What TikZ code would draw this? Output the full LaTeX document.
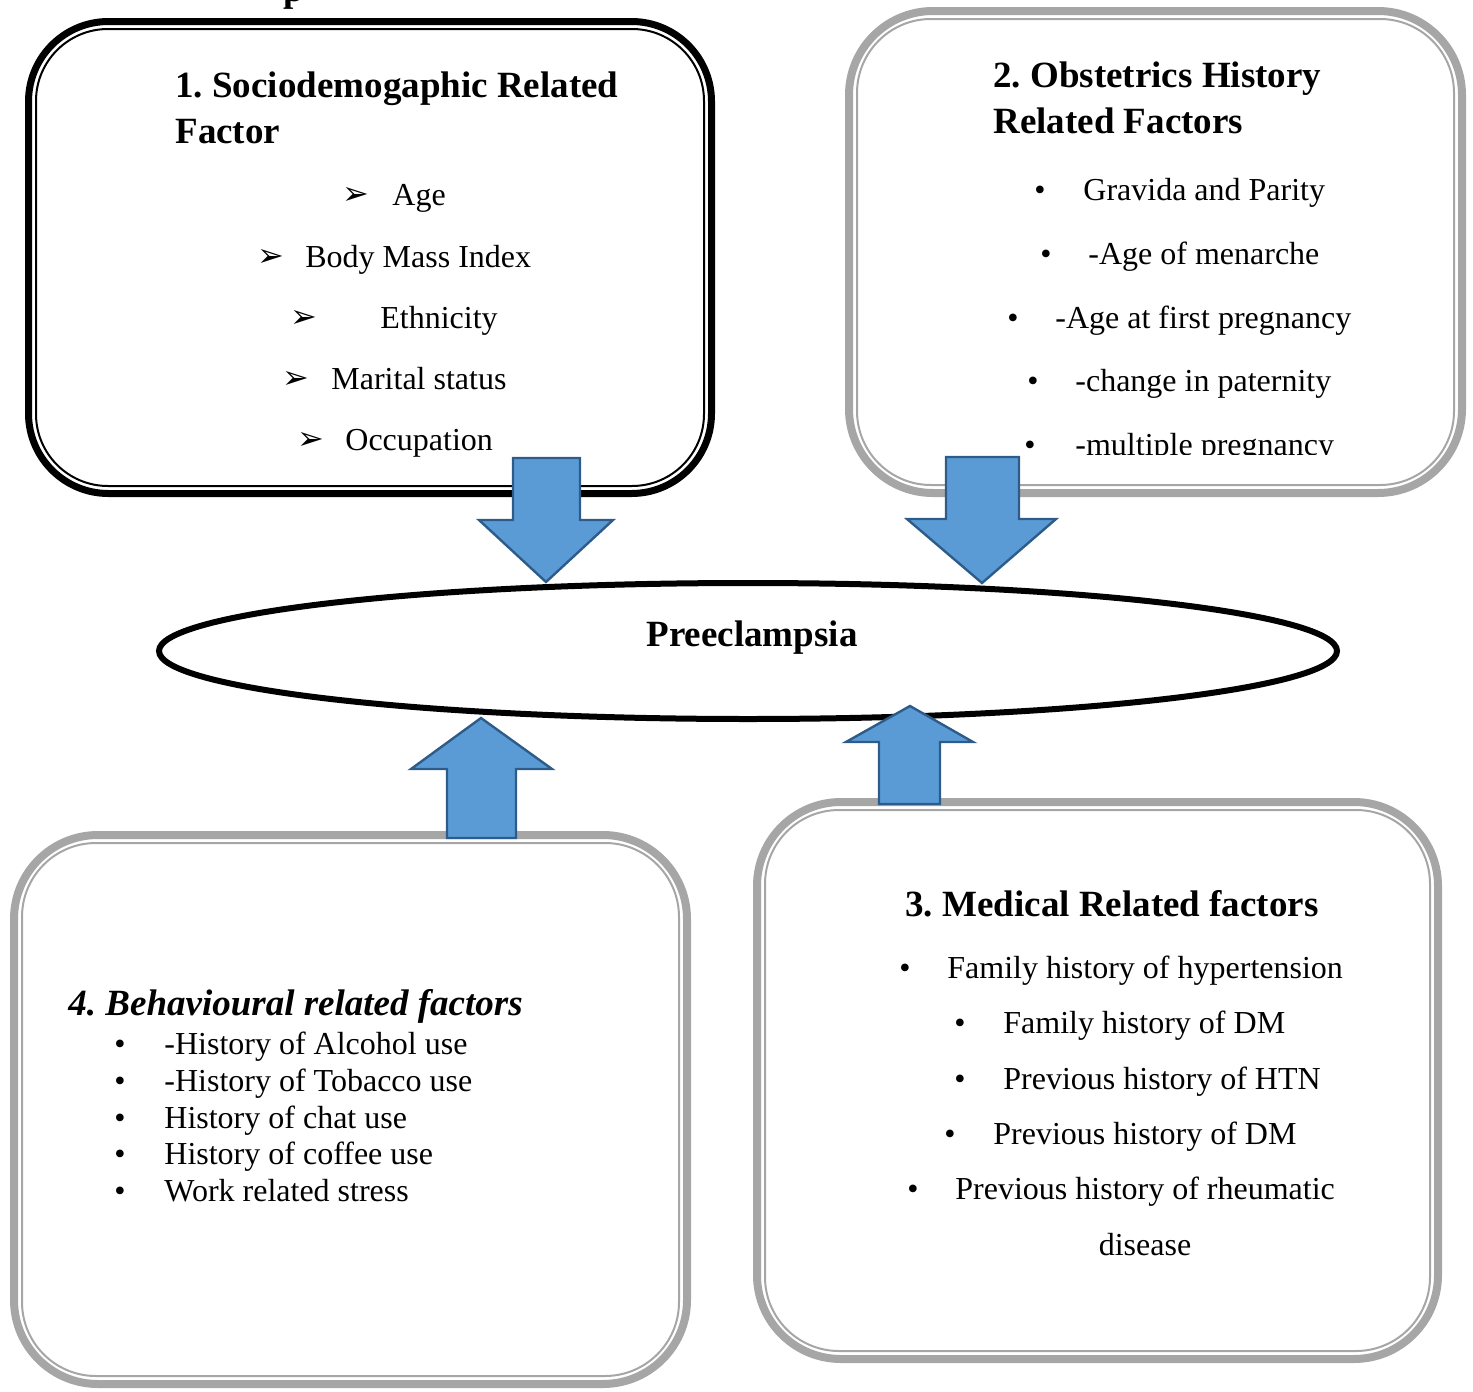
\documentclass[tikz,border=0pt]{standalone}
\usepackage{fontspec}
\setmainfont{Liberation Serif}
\newfontfamily\symfont{DejaVu Sans}
\usetikzlibrary{shapes.geometric}
\definecolor{frameblack}{HTML}{000000}
\definecolor{framegray}{HTML}{A6A6A6}
\definecolor{flowfill}{HTML}{5B9BD5}
\definecolor{flowline}{HTML}{2E5C8A}
\frenchspacing
\newcommand{\itemfont}{\fontsize{16}{19}\selectfont}
\newcommand{\headfont}{\fontsize{18.5}{22}\selectfont\bfseries}
\tikzset{
  % ---- frames ----------------------------------------------------
  blackouter/.style = {draw=frameblack, line width=3.5pt, rounded corners=40pt},
  blackinner/.style = {draw=frameblack, line width=1pt, rounded corners=36pt},
  grayouter/.style  = {draw=framegray, line width=4pt, rounded corners=42pt},
  grayinner/.style  = {draw=framegray, line width=1pt, rounded corners=37pt},
  % ---- texts -----------------------------------------------------
  head/.style       = {font=\headfont, anchor=base west, inner sep=0pt},
  itemtext/.style   = {font=\itemfont, anchor=base west, inner sep=0pt},
  bul/.style        = {font=\itemfont, anchor=base, inner sep=0pt},
  pointer/.style    = {font=\symfont\fontsize{16}{18}\selectfont, anchor=base,
                       inner sep=0pt},
  % ---- centre and arrows -----------------------------------------
  outcome/.style    = {ellipse, draw=black, line width=3pt, fill=white,
                       minimum width=589pt, minimum height=68pt, inner sep=0pt},
  flow/.style       = {fill=flowfill, draw=flowline, line width=1.2pt,
                       line join=miter},
}
\begin{document}
\begin{tikzpicture}[x=0.5pt, y=-0.5pt]
\useasboundingbox (0,0) rectangle (1473,1392);
% clipped title fragment
\node[head] (title) at (283,2) {p};
% frames
\draw[blackouter] (28.5,21.5) rectangle (711.5,493.5);
\draw[blackinner] (36,29) rectangle (704,486);
\draw[grayouter] (849,11) rectangle (1462,493);
\draw[grayinner] (857,19) rectangle (1454,485);
\draw[grayouter] (757,802) rectangle (1438,1359);
\draw[grayinner] (765,810) rectangle (1430,1351);
\draw[grayouter] (14,835) rectangle (687,1384);
\draw[grayinner] (22,843) rectangle (679,1376);
% 1. sociodemographic
\node[head] (sdh1) at (175,97) {1. Sociodemogaphic Related};
\node[head] (sdh2) at (175,143) {Factor};
\node[pointer] (sdp1) at (356,204) {➢};
\node[itemtext] (sdi1) at (392,205) {Age};
\node[pointer] (sdp2) at (271,266) {➢};
\node[itemtext] (sdi2) at (305,267) {Body Mass Index};
\node[pointer] (sdp3) at (304,327) {➢};
\node[itemtext] (sdi3) at (380,328) {Ethnicity};
\node[pointer] (sdp4) at (296,388) {➢};
\node[itemtext] (sdi4) at (331,389) {Marital status};
\node[pointer] (sdp5) at (311,449) {➢};
\node[itemtext] (sdi5) at (345,450) {Occupation};
% 2. obstetrics history
\node[head] (obh1) at (993,87) {2. Obstetrics History};
\node[head] (obh2) at (993,133) {Related Factors};
\node[bul] (obb1) at (1040,200) {•};
\node[itemtext] (obi1) at (1083,200) {Gravida and Parity};
\node[bul] (obb2) at (1046,264) {•};
\node[itemtext] (obi2) at (1088,264) {-Age of menarche};
\node[bul] (obb3) at (1013,328) {•};
\node[itemtext] (obi3) at (1055,328) {-Age at first pregnancy};
\node[bul] (obb4) at (1033,391) {•};
\node[itemtext] (obi4) at (1075,391) {-change in paternity};
\begin{scope}
  \clip (1000,400) rectangle (1400,454);
  \node[bul] (obb5) at (1030,455) {•};
  \node[itemtext] (obi5) at (1075,455) {-multiple pregnancy};
\end{scope}
% 3. medical
\node[head] (mdh) at (905,916) {3. Medical Related factors};
\node[bul] (mdb1) at (905,978) {•};
\node[itemtext] (mdi1) at (947,978) {Family history of hypertension};
\node[bul] (mdb2) at (960,1033) {•};
\node[itemtext] (mdi2) at (1003,1033) {Family history of DM};
\node[bul] (mdb3) at (960,1089) {•};
\node[itemtext] (mdi3) at (1003,1089) {Previous history of HTN};
\node[bul] (mdb4) at (950,1144) {•};
\node[itemtext] (mdi4) at (993,1144) {Previous history of DM};
\node[bul] (mdb5) at (913,1199) {•};
\node[itemtext] (mdi5) at (955,1199) {Previous history of rheumatic};
\node[itemtext, anchor=base] (mdi6) at (1145,1255) {disease};
% 4. behavioural
\node[head, font=\headfont\itshape] (bhh) at (68,1015) {4. Behavioural related factors};
\node[bul] (bhb1) at (120,1054) {•};
\node[itemtext] (bhi1) at (164,1054) {-History of Alcohol use};
\node[bul] (bhb2) at (120,1091) {•};
\node[itemtext] (bhi2) at (164,1091) {-History of Tobacco use};
\node[bul] (bhb3) at (120,1128) {•};
\node[itemtext] (bhi3) at (164,1128) {History of chat use};
\node[bul] (bhb4) at (120,1164) {•};
\node[itemtext] (bhi4) at (164,1164) {History of coffee use};
\node[bul] (bhb5) at (120,1201) {•};
\node[itemtext] (bhi5) at (164,1201) {Work related stress};
% outcome
\node[outcome] (pe) at (748,651) {};
\node[head, anchor=base] (pet) at (752,646) {Preeclampsia};
% block arrows
\draw[flow] (513,458) -- (580,458) -- (580,520) -- (613,520) -- (546,582)
  -- (479,520) -- (513,520) -- cycle;
\draw[flow] (946,457) -- (1019,457) -- (1019,519) -- (1056,519) -- (982,583)
  -- (907,519) -- (946,519) -- cycle;
\draw[flow] (447,838) -- (516,838) -- (516,769) -- (552,769) -- (481,718)
  -- (411,769) -- (447,769) -- cycle;
\draw[flow] (879,804) -- (940,804) -- (940,742) -- (973,742) -- (910,706)
  -- (846,742) -- (879,742) -- cycle;
\end{tikzpicture}
\end{document}
